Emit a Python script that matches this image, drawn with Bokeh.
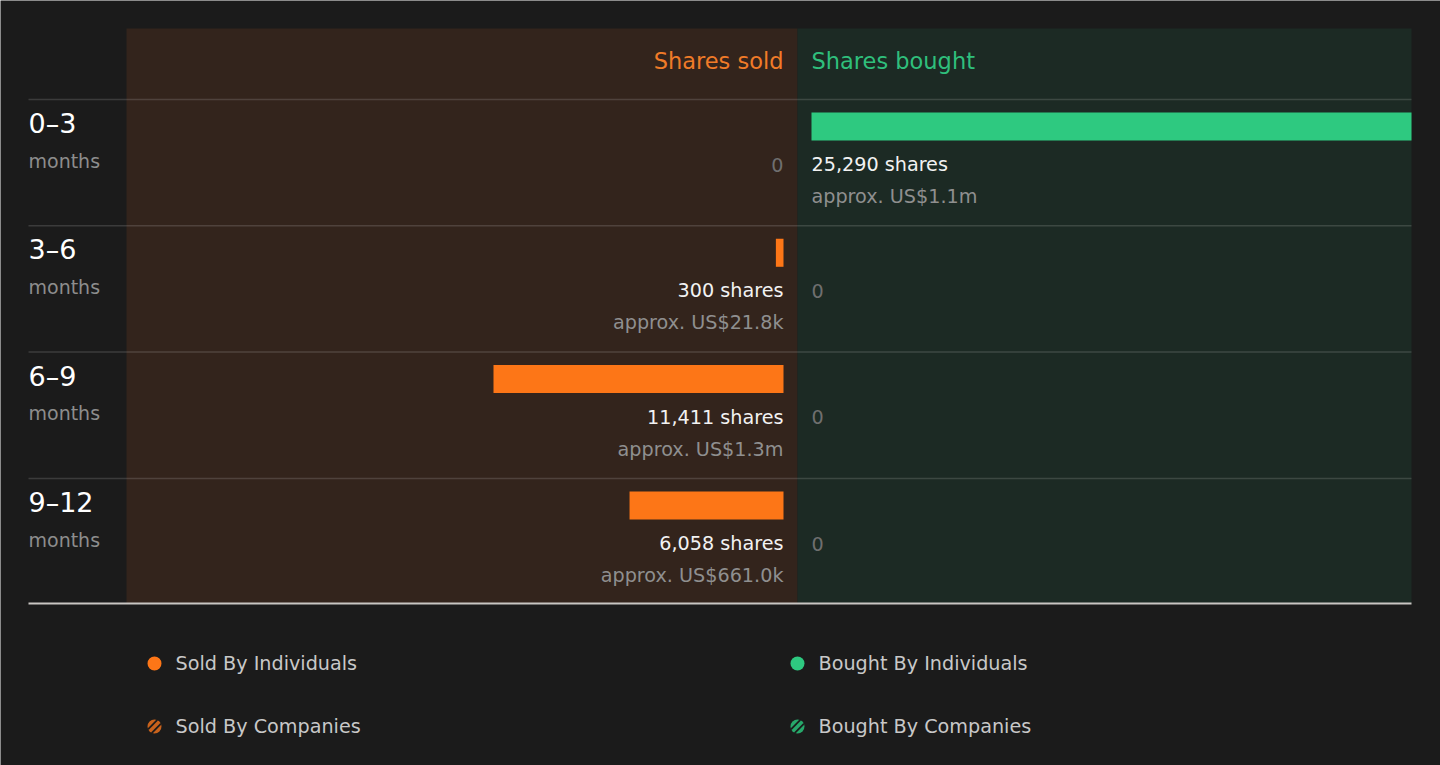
from bokeh.core.properties import value
from bokeh.embed import file_html
from bokeh.models import ColumnDataSource, Range1d
from bokeh.plotting import figure
from bokeh.resources import INLINE

# insider trading, last 12 months
periods = ["0–3", "3–6", "6–9", "9–12"]
sold_shares = [0, 300, 11411, 6058]
sold_usd = [0, 21.8e3, 1.3e6, 661.0e3]
bought_shares = [25290, 0, 0, 0]
bought_usd = [1.1e6, 0, 0, 0]
legend_labels = ["Sold By Individuals", "Sold By Companies",
                 "Bought By Individuals", "Bought By Companies"]

BG = "#1b1b1b"
SOLD_BG = "#33241c"
BOUGHT_BG = "#1c2a24"
ORANGE = "#fd7617"
GREEN = "#2ec980"
FONT = value("DejaVu Sans")

row_tops = [99, 225.3, 351.6, 478]


def usd(v):
    if v >= 1e6:
        return "approx. US$%.1fm" % (v / 1e6)
    return "approx. US$%.1fk" % (v / 1e3)


p = figure(width=1440, height=765, output_backend="svg", toolbar_location=None,
           x_range=Range1d(0, 1440), y_range=Range1d(765, 0),
           x_axis_location=None, y_axis_location=None, min_border=0,
           background_fill_color=BG, border_fill_color=BG, outline_line_color=None)
p.grid.visible = False

# bar scales: sold grows to the left from 783, bought to the right from 811
ks = 290 / 11411
kb = 600 / 25290
p.extra_x_ranges = {
    "sold": Range1d(783 / ks, (783 - 1440) / ks),
    "bought": Range1d(-811 / kb, (1440 - 811) / kb),
}

# panels
p.quad(left=[126, 797], right=[797, 1411], top=[28, 28], bottom=[603, 603],
       fill_color=[SOLD_BG, BOUGHT_BG], line_color=None)

# row separators
for y in row_tops:
    p.segment(x0=28, x1=1411, y0=y, y1=y, line_color="#ffffff", line_alpha=0.14, line_width=1.5)
p.segment(x0=28, x1=1411, y0=603, y1=603, line_color="#c9c6c3", line_width=2)

# header
p.text(x=[783], y=[60], text=["Shares sold"], text_align="right", text_baseline="middle",
       text_color="#f07b28", text_font=FONT, text_font_size=value("22.5px"))
p.text(x=[811], y=[60], text=["Shares bought"], text_align="left", text_baseline="middle",
       text_color="#2fbf7c", text_font=FONT, text_font_size=value("22.5px"))

# row labels
p.text(x=[28] * 4, y=[t + 24 for t in row_tops], text=periods, text_baseline="middle",
       text_color="#ffffff", text_font=FONT, text_font_size=value("27px"))
p.text(x=[28] * 4, y=[t + 61 for t in row_tops], text=["months"] * 4, text_baseline="middle",
       text_color="#8d8d8d", text_font=FONT, text_font_size=value("19px"))

# bars
bar_y = [t + 27 for t in row_tops]
p.hbar(y=bar_y, left=0, right=sold_shares, height=28, fill_color=ORANGE, line_color=None,
       x_range_name="sold")
p.hbar(y=bar_y, left=0, right=bought_shares, height=28, fill_color=GREEN, line_color=None,
       x_range_name="bought")

# value labels
for shares, money, x, align in [(sold_shares, sold_usd, 783, "right"),
                                (bought_shares, bought_usd, 811, "left")]:
    main = ColumnDataSource(dict(
        x=[x] * 4, y=[t + 65 for t in row_tops],
        text=["{:,} shares".format(s) if s else "0" for s in shares],
        color=["#f2f2f2" if s else "#6f6f6f" for s in shares]))
    p.text(x="x", y="y", text="text", text_color="color", source=main, text_align=align,
           text_baseline="middle", text_font=FONT, text_font_size=value("19.2px"))
    sub = ColumnDataSource(dict(
        x=[x] * 4, y=[t + 97 for t in row_tops],
        text=[usd(m) if s else "" for s, m in zip(shares, money)]))
    p.text(x="x", y="y", text="text", source=sub, text_align=align, text_color="#8f8f8f",
           text_baseline="middle", text_font=FONT, text_font_size=value("19.2px"))

# legend
lx = [154, 154, 797, 797]
ly = [663, 726, 663, 726]
p.scatter(x=lx, y=ly, size=14, fill_color=[ORANGE, "#c8621c", GREEN, "#27a86b"], line_color=None)
# stripes on the "companies" markers
for cx, cy in [(154, 726), (797, 726)]:
    for d in (-2.6, 2.6):
        h = (7 ** 2 - d ** 2) ** 0.5 * 0.72
        mx, my = cx + d * 0.707, cy + d * 0.707
        p.segment(x0=mx - h, y0=my + h, x1=mx + h, y1=my - h, line_color=BG, line_width=1.8)
p.text(x=[x + 21 for x in lx], y=ly, text=legend_labels, text_baseline="middle",
       text_color="#c8c8c8", text_font=FONT, text_font_size=value("19.2px"))

open("out.html", "w").write(file_html(p, INLINE))
